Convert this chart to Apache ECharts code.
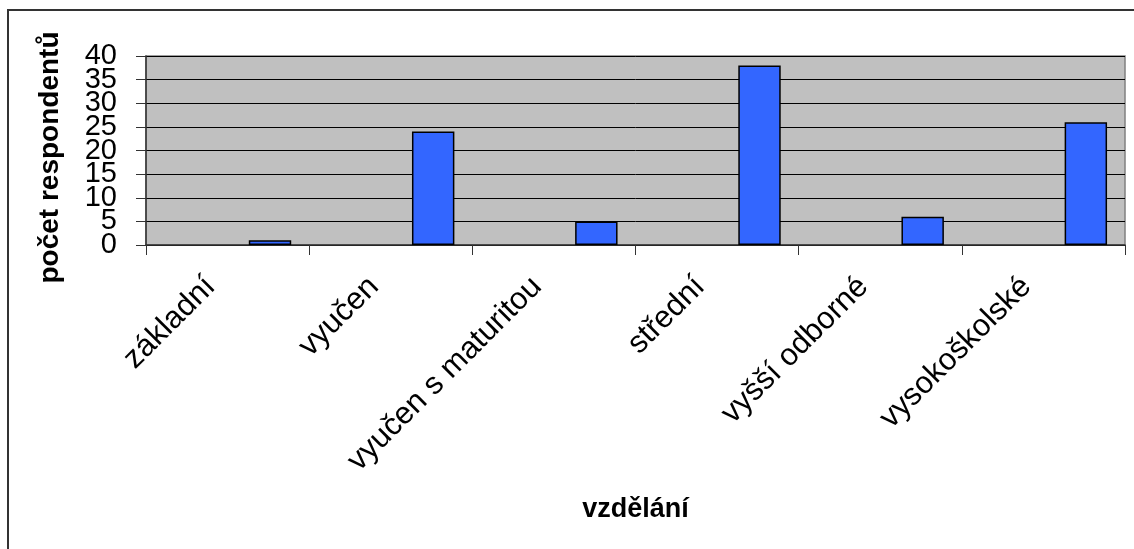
<!DOCTYPE html>
<html>
<head>
<meta charset="utf-8">
<script src="https://cdn.jsdelivr.net/npm/echarts@6/dist/echarts.min.js"></script>
<style>
html,body{margin:0;padding:0;background:#fff;}
#chart{width:1134px;height:549px;}
</style>
</head>
<body>
<div id="chart"></div>
<script>
const categories = ['základní', 'vyučen', 'vyučen s maturitou', 'střední', 'vyšší odborné', 'vysokoškolské'];
const respondents = [1, 24, 5, 38, 6, 26];
const yTicks = { min: 0, max: 40, interval: 5 };
const yTickLabels = ['0', '5', '10', '15', '20', '25', '30', '35', '40'];
const yAxisTitle = 'počet respondentů';
const xAxisTitle = 'vzdělání';

const FONT = '"Liberation Sans", Arial, sans-serif';
const chart = echarts.init(document.getElementById('chart'), null, { renderer: 'canvas' });
chart.setOption({
  animation: false,
  backgroundColor: '#ffffff',
  graphic: [{
    type: 'rect', silent: true, z: -10,
    shape: { x: 8, y: 10, width: 1300, height: 700 },
    style: { fill: 'none', stroke: '#333', lineWidth: 2 }
  }],
  grid: {
    left: 146, top: 56, right: 9, bottom: 304,
    show: true, backgroundColor: '#c0c0c0', borderColor: '#808080', borderWidth: 1.5
  },
  xAxis: {
    type: 'category',
    data: categories,
    name: xAxisTitle,
    nameLocation: 'middle',
    nameGap: 251,
    nameTextStyle: { fontFamily: FONT, fontSize: 27, fontWeight: 'bold', color: '#000' },
    axisLine: { lineStyle: { color: '#333', width: 1.5 } },
    axisTick: { show: true, length: 10, lineStyle: { color: '#333' } },
    axisLabel: { interval: 0, rotate: 45, margin: 20, align: 'right', verticalAlign: 'middle', padding: [0, 24, 0, 0], fontFamily: FONT, fontSize: 31, color: '#000' }
  },
  yAxis: [{
    type: 'value',
    min: yTicks.min, max: yTicks.max, interval: yTicks.interval,
    name: yAxisTitle,
    nameLocation: 'middle',
    nameRotate: 90,
    nameGap: 82,
    nameTextStyle: { fontFamily: FONT, fontSize: 28, fontWeight: 'bold', color: '#000', padding: [0, 14, 0, 0] },
    axisLine: { show: true, lineStyle: { color: '#333', width: 1.5 } },
    axisTick: { show: true, length: 10, lineStyle: { color: '#333' } },
    axisLabel: { show: false },
    splitLine: { show: true, lineStyle: { color: '#000', width: 1 } }
  }, {
    type: 'category',
    position: 'left',
    data: yTickLabels,
    boundaryGap: false,
    axisLine: { show: false },
    axisTick: { show: false },
    splitLine: { show: false },
    axisLabel: { interval: 0, margin: 29, fontFamily: FONT, fontSize: 29, color: '#000' }
  }],
  series: [
    { name: 'a', type: 'bar', data: [], barGap: '0%', barCategoryGap: '22%' },
    { name: 'b', type: 'bar', data: [], barGap: '0%', barCategoryGap: '22%' },
    {
      name: 'počet respondentů', type: 'bar', data: respondents,
      barGap: '0%', barCategoryGap: '22%',
      itemStyle: { color: '#3366ff', borderColor: '#000', borderWidth: 1.5 }
    }
  ]
});
</script>
</body>
</html>
